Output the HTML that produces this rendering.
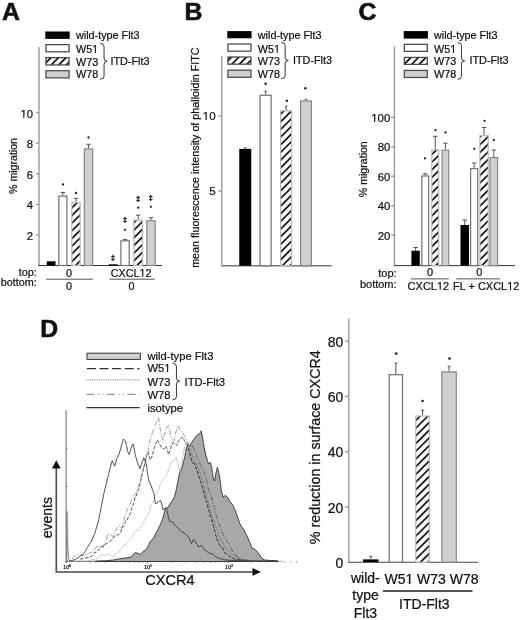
<!DOCTYPE html><html><head><meta charset="utf-8"><style>html,body{margin:0;padding:0;background:#fff;}svg{display:block;will-change:transform;}text{font-family:"Liberation Sans", sans-serif;fill:#111;stroke:#111;stroke-width:0.22px;}</style></head><body>
<svg width="520" height="620" viewBox="0 0 520 620">
<defs>
<pattern id="hatch" patternUnits="userSpaceOnUse" width="5.42" height="5.42" patternTransform="rotate(45)"><rect width="5.42" height="5.42" fill="#fff"/><line x1="2.71" y1="0" x2="2.71" y2="5.42" stroke="#000" stroke-width="1.6"/></pattern>
<pattern id="hatchL" patternUnits="userSpaceOnUse" width="5.3" height="5.3" patternTransform="rotate(45)"><rect width="5.3" height="5.3" fill="#fff"/><line x1="2.65" y1="0" x2="2.65" y2="5.3" stroke="#000" stroke-width="1.6"/></pattern>
<pattern id="hatchD" patternUnits="userSpaceOnUse" width="5.45" height="5.45" patternTransform="rotate(45)"><rect width="5.45" height="5.45" fill="#fff"/><line x1="2.725" y1="0" x2="2.725" y2="5.45" stroke="#000" stroke-width="1.6"/></pattern>
</defs>
<rect width="520" height="620" fill="#fff"/>
<text x="1.9" y="19.7" font-size="24.8" text-anchor="start" font-weight="bold" style="stroke-width:0.6px">A</text>
<rect x="45.3" y="31.5" width="24.400000000000006" height="7.399999999999999" fill="#000"/>
<rect x="45.925" y="44.625" width="23.150000000000006" height="7.149999999999999" fill="#fff" stroke="#484848" stroke-width="1.25"/>
<rect x="45.925" y="57.625" width="23.150000000000006" height="7.349999999999994" fill="url(#hatchL)" stroke="#484848" stroke-width="1.25"/>
<rect x="45.925" y="70.725" width="23.150000000000006" height="7.150000000000006" fill="#d0d0d0" stroke="#484848" stroke-width="1.25"/>
<text x="76" y="39.2" font-size="10.8" text-anchor="start" font-weight="normal" >wild-type Flt3</text>
<text x="76" y="52.8" font-size="10.8" text-anchor="start" font-weight="normal" >W51</text>
<text x="76" y="65.6" font-size="10.8" text-anchor="start" font-weight="normal" >W73</text>
<text x="76" y="78.2" font-size="10.8" text-anchor="start" font-weight="normal" >W78</text>
<path d="M100.2,43.5 Q104.05,43.5 104.05,46.5 L104.05,58.35 Q104.05,61.35 107.2,61.35 Q104.05,61.35 104.05,64.35 L104.05,76.2 Q104.05,79.2 100.2,79.2" fill="none" stroke="#333" stroke-width="1"/>
<text x="110.5" y="64.8" font-size="10.8" text-anchor="start" font-weight="normal" >ITD-Flt3</text>
<line x1="39" y1="47" x2="39" y2="266" stroke="#9a9a9a" stroke-width="1.4" />
<line x1="38.4" y1="265.5" x2="162" y2="265.5" stroke="#333" stroke-width="1" />
<line x1="36" y1="234.98000000000002" x2="39" y2="234.98000000000002" stroke="#9a9a9a" stroke-width="1.4" />
<text x="33" y="239.98000000000002" font-size="11.3" text-anchor="end" font-weight="normal" >2</text>
<line x1="36" y1="204.36" x2="39" y2="204.36" stroke="#9a9a9a" stroke-width="1.4" />
<text x="33" y="209.36" font-size="11.3" text-anchor="end" font-weight="normal" >4</text>
<line x1="36" y1="173.74" x2="39" y2="173.74" stroke="#9a9a9a" stroke-width="1.4" />
<text x="33" y="178.74" font-size="11.3" text-anchor="end" font-weight="normal" >6</text>
<line x1="36" y1="143.12" x2="39" y2="143.12" stroke="#9a9a9a" stroke-width="1.4" />
<text x="33" y="148.12" font-size="11.3" text-anchor="end" font-weight="normal" >8</text>
<line x1="36" y1="112.50000000000003" x2="39" y2="112.50000000000003" stroke="#9a9a9a" stroke-width="1.4" />
<text x="33" y="117.50000000000003" font-size="11.3" text-anchor="end" font-weight="normal" >10</text>
<text transform="translate(17,166) rotate(-90)" font-size="10.6" text-anchor="middle">% migration</text>
<rect x="46.75" y="261.3" width="8.75" height="4.199999999999989" fill="#000"/>
<rect x="58.85" y="196.1" width="8.05" height="69.4" fill="#fff" stroke="#707070" stroke-width="1.2"/>
<line x1="62.875" y1="195.5" x2="62.875" y2="192.5" stroke="#555" stroke-width="1"/>
<line x1="60.625" y1="192.5" x2="65.125" y2="192.5" stroke="#555" stroke-width="1"/>
<rect x="71.85" y="202.6" width="8.3" height="62.9" fill="url(#hatch)" stroke="#b8b8b8" stroke-width="1.2"/>
<line x1="76.0" y1="202" x2="76.0" y2="198.3" stroke="#555" stroke-width="1"/>
<line x1="73.75" y1="198.3" x2="78.25" y2="198.3" stroke="#555" stroke-width="1"/>
<rect x="84.35" y="148.9" width="8.3" height="116.6" fill="#d0d0d0" stroke="#858585" stroke-width="1.2"/>
<line x1="88.5" y1="148.3" x2="88.5" y2="144.3" stroke="#555" stroke-width="1"/>
<line x1="86.25" y1="144.3" x2="90.75" y2="144.3" stroke="#555" stroke-width="1"/>
<rect x="108.7" y="264.3" width="9.0" height="1.1999999999999886" fill="#000"/>
<rect x="120.89999999999999" y="240.79999999999998" width="8.300000000000015" height="24.70000000000001" fill="#fff" stroke="#707070" stroke-width="1.2"/>
<line x1="125.05000000000001" y1="240.2" x2="125.05000000000001" y2="239.6" stroke="#555" stroke-width="1"/>
<line x1="122.80000000000001" y1="239.6" x2="127.30000000000001" y2="239.6" stroke="#555" stroke-width="1"/>
<rect x="133.9" y="220.1" width="8.599999999999984" height="45.4" fill="url(#hatch)" stroke="#b8b8b8" stroke-width="1.2"/>
<line x1="138.2" y1="219.5" x2="138.2" y2="215.1" stroke="#555" stroke-width="1"/>
<line x1="135.95" y1="215.1" x2="140.45" y2="215.1" stroke="#555" stroke-width="1"/>
<rect x="146.79999999999998" y="220.79999999999998" width="8.400000000000023" height="44.70000000000001" fill="#d0d0d0" stroke="#858585" stroke-width="1.2"/>
<line x1="151.0" y1="220.2" x2="151.0" y2="217.7" stroke="#555" stroke-width="1"/>
<line x1="148.75" y1="217.7" x2="153.25" y2="217.7" stroke="#555" stroke-width="1"/>
<circle cx="63" cy="184.5" r="1.15" fill="#222"/>
<circle cx="76" cy="193" r="1.15" fill="#222"/>
<circle cx="88.5" cy="137.5" r="1.15" fill="#222"/>
<text x="113" y="260.2" font-size="7.0" font-weight="bold" text-anchor="middle" style="stroke-width:0.35px">&#8225;</text>
<text x="125" y="222.39999999999998" font-size="7.0" font-weight="bold" text-anchor="middle" style="stroke-width:0.35px">&#8225;</text>
<circle cx="125" cy="229.8" r="1.15" fill="#222"/>
<circle cx="138.2" cy="207.7" r="1.15" fill="#222"/>
<text x="138.2" y="200.5" font-size="7.0" font-weight="bold" text-anchor="middle" style="stroke-width:0.35px">&#8225;</text>
<circle cx="150.8" cy="206.8" r="1.15" fill="#222"/>
<text x="150.8" y="200.2" font-size="7.0" font-weight="bold" text-anchor="middle" style="stroke-width:0.35px">&#8225;</text>
<text x="36.8" y="275.6" font-size="10.8" text-anchor="end" font-weight="normal" >top:</text>
<text x="36.8" y="286.2" font-size="10.8" text-anchor="end" font-weight="normal" >bottom:</text>
<text x="69" y="277.4" font-size="10.8" text-anchor="middle" font-weight="normal" >0</text>
<text x="131.2" y="276.7" font-size="10.8" text-anchor="middle" font-weight="normal" >CXCL12</text>
<line x1="46.2" y1="279.2" x2="92.7" y2="279.2" stroke="#555" stroke-width="1" />
<line x1="109.4" y1="279.2" x2="154.8" y2="279.2" stroke="#555" stroke-width="1" />
<text x="69" y="289.9" font-size="10.8" text-anchor="middle" font-weight="normal" >0</text>
<text x="131.5" y="289.9" font-size="10.8" text-anchor="middle" font-weight="normal" >0</text>
<text x="184.4" y="20.0" font-size="24.8" text-anchor="start" font-weight="bold" style="stroke-width:0.6px">B</text>
<rect x="227.3" y="31.1" width="24.299999999999983" height="7.199999999999996" fill="#000"/>
<rect x="227.925" y="44.025" width="23.049999999999983" height="7.149999999999999" fill="#fff" stroke="#484848" stroke-width="1.25"/>
<rect x="227.925" y="57.025" width="23.049999999999983" height="7.149999999999999" fill="url(#hatchL)" stroke="#484848" stroke-width="1.25"/>
<rect x="227.925" y="70.125" width="23.049999999999983" height="7.150000000000006" fill="#d0d0d0" stroke="#484848" stroke-width="1.25"/>
<text x="257.8" y="38.9" font-size="10.8" text-anchor="start" font-weight="normal" >wild-type Flt3</text>
<text x="257.8" y="52.7" font-size="10.8" text-anchor="start" font-weight="normal" >W51</text>
<text x="257.8" y="64.9" font-size="10.8" text-anchor="start" font-weight="normal" >W73</text>
<text x="257.8" y="77.5" font-size="10.8" text-anchor="start" font-weight="normal" >W78</text>
<path d="M281.3,42.3 Q285.15000000000003,42.3 285.15000000000003,45.3 L285.15000000000003,57.5 Q285.15000000000003,60.5 288.3,60.5 Q285.15000000000003,60.5 285.15000000000003,63.5 L285.15000000000003,75.7 Q285.15000000000003,78.7 281.3,78.7" fill="none" stroke="#333" stroke-width="1"/>
<text x="293.0" y="63.9" font-size="10.8" text-anchor="start" font-weight="normal" >ITD-Flt3</text>
<line x1="221.8" y1="56" x2="221.8" y2="266" stroke="#9a9a9a" stroke-width="1.4" />
<line x1="221.2" y1="265.75" x2="331.75" y2="265.75" stroke="#777" stroke-width="1.4" />
<line x1="218.3" y1="191.10000000000002" x2="221.8" y2="191.10000000000002" stroke="#9a9a9a" stroke-width="1.4" />
<text x="215.6" y="195.3" font-size="11.6" text-anchor="end" font-weight="normal" >5</text>
<line x1="218.3" y1="116.10000000000002" x2="221.8" y2="116.10000000000002" stroke="#9a9a9a" stroke-width="1.4" />
<text x="215.6" y="120.30000000000003" font-size="11.6" text-anchor="end" font-weight="normal" >10</text>
<text transform="translate(198.5,157.6) rotate(-90)" font-size="10.75" text-anchor="middle">mean fluorescence intensity of phalloidin FITC</text>
<rect x="239.25" y="148.9" width="12.0" height="116.85" fill="#000"/>
<line x1="245.25" y1="148.9" x2="245.25" y2="147.9" stroke="#555" stroke-width="1"/>
<line x1="243.75" y1="147.9" x2="246.75" y2="147.9" stroke="#555" stroke-width="1"/>
<rect x="260.1" y="95.3" width="10.99999999999999" height="170.45000000000002" fill="#fff" stroke="#707070" stroke-width="1.2"/>
<line x1="265.6" y1="94.7" x2="265.6" y2="91.2" stroke="#555" stroke-width="1"/>
<line x1="264.3" y1="91.2" x2="266.90000000000003" y2="91.2" stroke="#555" stroke-width="1"/>
<rect x="280.6" y="110.89999999999999" width="10.99999999999999" height="154.85" fill="url(#hatch)" stroke="#b8b8b8" stroke-width="1.2"/>
<line x1="286.1" y1="110.3" x2="286.1" y2="106.3" stroke="#555" stroke-width="1"/>
<line x1="284.8" y1="106.3" x2="287.40000000000003" y2="106.3" stroke="#555" stroke-width="1"/>
<rect x="300.6" y="101.0" width="10.8" height="164.75" fill="#d0d0d0" stroke="#858585" stroke-width="1.2"/>
<line x1="306.0" y1="100.4" x2="306.0" y2="99.4" stroke="#555" stroke-width="1"/>
<line x1="304.7" y1="99.4" x2="307.3" y2="99.4" stroke="#555" stroke-width="1"/>
<circle cx="265.6" cy="83.7" r="1.25" fill="#222"/>
<circle cx="286.9" cy="100.8" r="1.25" fill="#222"/>
<circle cx="305.4" cy="88.3" r="1.25" fill="#222"/>
<text x="358.4" y="19.7" font-size="24.8" text-anchor="start" font-weight="bold" style="stroke-width:0.6px">C</text>
<rect x="403.7" y="31.1" width="24.19999999999999" height="7.5" fill="#000"/>
<rect x="404.325" y="44.325" width="22.94999999999999" height="7.049999999999997" fill="#fff" stroke="#484848" stroke-width="1.25"/>
<rect x="404.325" y="57.425" width="22.94999999999999" height="6.950000000000003" fill="url(#hatchL)" stroke="#484848" stroke-width="1.25"/>
<rect x="404.325" y="70.425" width="22.94999999999999" height="7.049999999999997" fill="#d0d0d0" stroke="#484848" stroke-width="1.25"/>
<text x="434.0" y="39.2" font-size="10.8" text-anchor="start" font-weight="normal" >wild-type Flt3</text>
<text x="434.0" y="52.5" font-size="10.8" text-anchor="start" font-weight="normal" >W51</text>
<text x="434.0" y="65.0" font-size="10.8" text-anchor="start" font-weight="normal" >W73</text>
<text x="434.0" y="77.8" font-size="10.8" text-anchor="start" font-weight="normal" >W78</text>
<path d="M457.6,42.4 Q461.45000000000005,42.4 461.45000000000005,45.4 L461.45000000000005,57.900000000000006 Q461.45000000000005,60.900000000000006 464.6,60.900000000000006 Q461.45000000000005,60.900000000000006 461.45000000000005,63.900000000000006 L461.45000000000005,76.4 Q461.45000000000005,79.4 457.6,79.4" fill="none" stroke="#333" stroke-width="1"/>
<text x="469.5" y="64.3" font-size="10.8" text-anchor="start" font-weight="normal" >ITD-Flt3</text>
<line x1="394.4" y1="46.4" x2="394.4" y2="266" stroke="#9a9a9a" stroke-width="1.4" />
<line x1="393.8" y1="265.6" x2="515" y2="265.6" stroke="#333" stroke-width="1" />
<line x1="391.2" y1="235.15000000000003" x2="394.4" y2="235.15000000000003" stroke="#9a9a9a" stroke-width="1.4" />
<text x="390.3" y="239.75000000000003" font-size="11.4" text-anchor="end" font-weight="normal" >20</text>
<line x1="391.2" y1="205.70000000000002" x2="394.4" y2="205.70000000000002" stroke="#9a9a9a" stroke-width="1.4" />
<text x="390.3" y="210.3" font-size="11.4" text-anchor="end" font-weight="normal" >40</text>
<line x1="391.2" y1="176.25000000000003" x2="394.4" y2="176.25000000000003" stroke="#9a9a9a" stroke-width="1.4" />
<text x="390.3" y="180.85000000000002" font-size="11.4" text-anchor="end" font-weight="normal" >60</text>
<line x1="391.2" y1="146.8" x2="394.4" y2="146.8" stroke="#9a9a9a" stroke-width="1.4" />
<text x="390.3" y="151.4" font-size="11.4" text-anchor="end" font-weight="normal" >80</text>
<line x1="391.2" y1="117.35000000000002" x2="394.4" y2="117.35000000000002" stroke="#9a9a9a" stroke-width="1.4" />
<text x="390.3" y="121.95000000000002" font-size="11.4" text-anchor="end" font-weight="normal" >100</text>
<text transform="translate(367.3,169.2) rotate(-90)" font-size="10.6" text-anchor="middle">% migration</text>
<rect x="411.4" y="250.75" width="8.400000000000034" height="14.850000000000023" fill="#000"/>
<line x1="415.6" y1="250.75" x2="415.6" y2="247.5" stroke="#555" stroke-width="1"/>
<line x1="413.35" y1="247.5" x2="417.85" y2="247.5" stroke="#555" stroke-width="1"/>
<rect x="421.85" y="176.0" width="6.850000000000011" height="89.60000000000002" fill="#fff" stroke="#707070" stroke-width="1.2"/>
<line x1="425.275" y1="175.4" x2="425.275" y2="173.8" stroke="#555" stroke-width="1"/>
<line x1="423.025" y1="173.8" x2="427.525" y2="173.8" stroke="#555" stroke-width="1"/>
<rect x="431.8" y="149.9" width="6.900000000000023" height="115.70000000000002" fill="url(#hatch)" stroke="#b8b8b8" stroke-width="1.2"/>
<line x1="435.25" y1="149.3" x2="435.25" y2="136.3" stroke="#555" stroke-width="1"/>
<line x1="433.0" y1="136.3" x2="437.5" y2="136.3" stroke="#555" stroke-width="1"/>
<rect x="442.1" y="150.29999999999998" width="6.600000000000011" height="115.30000000000004" fill="#d0d0d0" stroke="#858585" stroke-width="1.2"/>
<line x1="445.4" y1="149.7" x2="445.4" y2="143.25" stroke="#555" stroke-width="1"/>
<line x1="443.15" y1="143.25" x2="447.65" y2="143.25" stroke="#555" stroke-width="1"/>
<rect x="460.5" y="225.0" width="8.5" height="40.60000000000002" fill="#000"/>
<line x1="464.75" y1="225.0" x2="464.75" y2="220" stroke="#555" stroke-width="1"/>
<line x1="462.5" y1="220" x2="467.0" y2="220" stroke="#555" stroke-width="1"/>
<rect x="470.6" y="168.6" width="7.05" height="97.00000000000003" fill="#fff" stroke="#707070" stroke-width="1.2"/>
<line x1="474.125" y1="168.0" x2="474.125" y2="163" stroke="#555" stroke-width="1"/>
<line x1="471.875" y1="163" x2="476.375" y2="163" stroke="#555" stroke-width="1"/>
<rect x="479.90000000000003" y="135.6" width="8.3" height="130.00000000000003" fill="url(#hatch)" stroke="#b8b8b8" stroke-width="1.2"/>
<line x1="484.05" y1="135.0" x2="484.05" y2="127.5" stroke="#555" stroke-width="1"/>
<line x1="481.8" y1="127.5" x2="486.3" y2="127.5" stroke="#555" stroke-width="1"/>
<rect x="490.0" y="157.6" width="7.600000000000011" height="108.00000000000003" fill="#d0d0d0" stroke="#858585" stroke-width="1.2"/>
<line x1="493.79999999999995" y1="157.0" x2="493.79999999999995" y2="150" stroke="#555" stroke-width="1"/>
<line x1="491.54999999999995" y1="150" x2="496.04999999999995" y2="150" stroke="#555" stroke-width="1"/>
<circle cx="425" cy="158.4" r="1.15" fill="#222"/>
<circle cx="435.5" cy="130.2" r="1.15" fill="#222"/>
<circle cx="445.5" cy="132.5" r="1.15" fill="#222"/>
<circle cx="474.3" cy="148.8" r="1.15" fill="#222"/>
<circle cx="484.5" cy="120.8" r="1.15" fill="#222"/>
<circle cx="493.8" cy="140" r="1.15" fill="#222"/>
<text x="396.6" y="277" font-size="11" text-anchor="end" font-weight="normal" >top:</text>
<text x="396.6" y="287.7" font-size="11" text-anchor="end" font-weight="normal" >bottom:</text>
<text x="430" y="276.3" font-size="11" text-anchor="middle" font-weight="normal" >0</text>
<text x="479.2" y="276.3" font-size="11" text-anchor="middle" font-weight="normal" >0</text>
<line x1="411" y1="278.9" x2="448.8" y2="278.9" stroke="#555" stroke-width="1" />
<line x1="456.3" y1="278.9" x2="500" y2="278.9" stroke="#555" stroke-width="1" />
<text x="428.4" y="289.5" font-size="11" text-anchor="middle" font-weight="normal" >CXCL12</text>
<text x="486.2" y="289.5" font-size="11" text-anchor="middle" font-weight="normal" >FL + CXCL12</text>
<text x="40.3" y="337.0" font-size="24.8" text-anchor="start" font-weight="bold" style="stroke-width:0.6px">D</text>
<rect x="87" y="353.2" width="53.3" height="6.2" fill="#d0d0d0" stroke="#333" stroke-width="1"/>
<line x1="86.9" y1="368.6" x2="139.6" y2="368.6" stroke="#333" stroke-width="1.2" stroke-dasharray="9,3.6"/>
<line x1="86.5" y1="379.9" x2="139.6" y2="379.9" stroke="#666" stroke-width="1.0" stroke-dasharray="0.8,1"/>
<line x1="86.5" y1="394.4" x2="139.6" y2="394.4" stroke="#999" stroke-width="1.1" stroke-dasharray="8,3.5,1,3.5,1,3.5"/>
<line x1="86.5" y1="407.6" x2="139.6" y2="407.6" stroke="#333" stroke-width="1.2" />
<text x="147.5" y="360.1" font-size="11.2" text-anchor="start" font-weight="normal" >wild-type Flt3</text>
<text x="147.5" y="372.0" font-size="11.2" text-anchor="start" font-weight="normal" >W51</text>
<text x="147.5" y="386.1" font-size="11.2" text-anchor="start" font-weight="normal" >W73</text>
<text x="147.5" y="398.6" font-size="11.2" text-anchor="start" font-weight="normal" >W78</text>
<text x="147.5" y="412.3" font-size="11.2" text-anchor="start" font-weight="normal" >isotype</text>
<path d="M172.6,363.3 Q176.45,363.3 176.45,366.3 L176.45,378.2 Q176.45,381.2 179.6,381.2 Q176.45,381.2 176.45,384.2 L176.45,396.8 Q176.45,399.8 172.6,399.8" fill="none" stroke="#333" stroke-width="1"/>
<text x="184.6" y="386.3" font-size="11.2" text-anchor="start" font-weight="normal" >ITD-Flt3</text>
<line x1="66.1" y1="410.2" x2="66.1" y2="561.8" stroke="#666" stroke-width="1" />
<line x1="65.6" y1="561.3" x2="278" y2="561.3" stroke="#666" stroke-width="1" />
<line x1="278" y1="561.3" x2="283" y2="561.3" stroke="#aaa" stroke-width="1" />
<line x1="66.1" y1="448.6" x2="67.6" y2="448.6" stroke="#666" stroke-width="0.8" />
<line x1="66.1" y1="486.5" x2="67.6" y2="486.5" stroke="#666" stroke-width="0.8" />
<line x1="66.1" y1="524.2" x2="67.6" y2="524.2" stroke="#666" stroke-width="0.8" />
<text x="63.3" y="568.6" font-size="5.2" text-anchor="start" font-weight="normal" >10<tspan font-size="3.6" dy="-1.8">0</tspan></text>
<text x="144.3" y="568.6" font-size="5.2" text-anchor="start" font-weight="normal" >10<tspan font-size="3.6" dy="-1.8">1</tspan></text>
<text x="225.3" y="568.6" font-size="5.2" text-anchor="start" font-weight="normal" >10<tspan font-size="3.6" dy="-1.8">2</tspan></text>
<line x1="66.1" y1="561.3" x2="66.1" y2="563.5" stroke="#666" stroke-width="0.8" />
<line x1="90.48" y1="561.3" x2="90.48" y2="562.5999999999999" stroke="#666" stroke-width="0.8" />
<line x1="104.75" y1="561.3" x2="104.75" y2="562.5999999999999" stroke="#666" stroke-width="0.8" />
<line x1="114.87" y1="561.3" x2="114.87" y2="562.5999999999999" stroke="#666" stroke-width="0.8" />
<line x1="122.72" y1="561.3" x2="122.72" y2="562.5999999999999" stroke="#666" stroke-width="0.8" />
<line x1="129.13" y1="561.3" x2="129.13" y2="562.5999999999999" stroke="#666" stroke-width="0.8" />
<line x1="134.55" y1="561.3" x2="134.55" y2="562.5999999999999" stroke="#666" stroke-width="0.8" />
<line x1="139.25" y1="561.3" x2="139.25" y2="562.5999999999999" stroke="#666" stroke-width="0.8" />
<line x1="143.39" y1="561.3" x2="143.39" y2="562.5999999999999" stroke="#666" stroke-width="0.8" />
<line x1="147.1" y1="561.3" x2="147.1" y2="563.5" stroke="#666" stroke-width="0.8" />
<line x1="171.48" y1="561.3" x2="171.48" y2="562.5999999999999" stroke="#666" stroke-width="0.8" />
<line x1="185.75" y1="561.3" x2="185.75" y2="562.5999999999999" stroke="#666" stroke-width="0.8" />
<line x1="195.87" y1="561.3" x2="195.87" y2="562.5999999999999" stroke="#666" stroke-width="0.8" />
<line x1="203.72" y1="561.3" x2="203.72" y2="562.5999999999999" stroke="#666" stroke-width="0.8" />
<line x1="210.13" y1="561.3" x2="210.13" y2="562.5999999999999" stroke="#666" stroke-width="0.8" />
<line x1="215.55" y1="561.3" x2="215.55" y2="562.5999999999999" stroke="#666" stroke-width="0.8" />
<line x1="220.25" y1="561.3" x2="220.25" y2="562.5999999999999" stroke="#666" stroke-width="0.8" />
<line x1="224.39" y1="561.3" x2="224.39" y2="562.5999999999999" stroke="#666" stroke-width="0.8" />
<line x1="228.1" y1="561.3" x2="228.1" y2="563.5" stroke="#666" stroke-width="0.8" />
<line x1="252.48" y1="561.3" x2="252.48" y2="562.5999999999999" stroke="#666" stroke-width="0.8" />
<line x1="266.75" y1="561.3" x2="266.75" y2="562.5999999999999" stroke="#666" stroke-width="0.8" />
<line x1="276.87" y1="561.3" x2="276.87" y2="562.5999999999999" stroke="#666" stroke-width="0.8" />
<line x1="284.72" y1="561.3" x2="284.72" y2="562.5999999999999" stroke="#666" stroke-width="0.8" />
<line x1="291.13" y1="561.3" x2="291.13" y2="562.5999999999999" stroke="#666" stroke-width="0.8" />
<line x1="296.55" y1="561.3" x2="296.55" y2="562.5999999999999" stroke="#666" stroke-width="0.8" />
<polygon points="95.0,561.3 96.87,561.16 98.73,561.03 100.6,561.1 102.47,560.84 104.33,560.89 106.2,560.8 108.1,560.56 110.0,560.27 111.9,560.2 113.8,560.0 115.72,559.49 117.65,559.23 119.58,558.75 121.5,558.5 123.57,558.11 125.63,557.94 127.7,557.7 130.0,557.28 132.3,556.2 133.85,553.87 135.4,552.3 136.9,553.1 138.45,553.57 140.0,554.6 141.55,553.18 143.1,551.5 145.0,550.45 146.9,548.5 147.68,547.04 148.46,545.32 149.24,544.36 150.02,541.89 150.8,540.8 152.3,539.61 153.8,537.7 154.58,535.94 155.35,534.24 156.12,532.67 156.9,531.5 157.68,529.78 158.45,528.77 159.22,526.61 160.0,525.4 160.78,523.56 161.55,521.69 162.32,519.5 163.1,517.7 163.56,515.91 164.02,513.58 164.48,511.74 164.94,510.05 165.4,508.5 166.95,507.88 168.5,506.9 169.25,505.28 170.0,503.8 171.15,502.11 172.3,500.8 173.07,499.35 173.83,497.69 174.6,496.2 175.13,493.93 175.67,492.36 176.2,490.0 176.53,488.49 176.87,486.32 177.2,484.94 177.53,483.18 177.87,481.82 178.2,479.96 178.53,477.81 178.87,476.79 179.2,474.6 179.97,472.29 180.75,470.67 181.53,469.08 182.3,466.9 182.76,464.71 183.22,463.21 183.68,460.92 184.14,459.71 184.6,457.7 184.92,456.12 185.24,454.09 185.56,452.56 185.88,450.15 186.2,448.5 186.95,446.75 187.7,444.6 190.0,446.2 190.75,444.74 191.5,443.1 192.65,441.23 193.8,439.2 195.35,437.26 196.9,435.4 199.2,433.8 200.25,432.64 201.3,430.8 201.62,432.96 201.94,434.21 202.26,436.12 202.58,437.24 202.9,439.4 203.22,441.53 203.53,443.41 203.85,445.69 204.17,447.46 204.48,448.85 204.8,451.0 205.33,452.94 205.85,455.27 206.38,456.67 206.9,459.2 207.7,461.56 208.5,464.0 210.2,462.4 210.9,464.47 211.6,467.2 211.84,468.5 212.09,470.13 212.33,472.53 212.57,473.57 212.81,475.38 213.06,477.21 213.3,479.0 214.6,481.0 214.88,479.62 215.15,477.08 215.42,475.7 215.7,474.0 216.12,472.35 216.55,470.98 216.97,469.22 217.4,467.2 217.8,469.26 218.2,470.38 218.6,472.22 219.0,473.86 219.4,475.7 219.64,477.9 219.88,479.78 220.11,480.79 220.35,482.63 220.59,484.49 220.83,486.31 221.06,488.37 221.3,490.2 221.73,492.11 222.15,493.61 222.57,495.18 223.0,497.5 225.4,495.3 227.8,497.5 228.63,499.02 229.47,500.57 230.3,502.3 232.7,504.7 233.5,506.4 234.3,508.42 235.1,509.6 235.7,511.62 236.3,513.27 236.9,515.19 237.5,516.9 238.12,518.88 238.75,520.05 239.38,522.7 240.0,524.1 241.2,526.18 242.4,527.7 244.3,530.2 245.27,532.57 246.23,534.5 247.2,536.2 248.0,538.13 248.8,540.17 249.6,542.3 250.43,543.9 251.27,546.43 252.1,548.3 255.2,549.5 256.65,550.91 258.1,553.2 259.3,554.37 260.5,556.11 261.7,558.0 264.2,560.0 266.13,560.1 268.07,560.35 270.0,560.6 272.0,560.57 274.0,560.65 276.0,560.8 278,561 278,561.5 95,561.5" fill="#a8a8a8" stroke="#3a3a3a" stroke-width="1" stroke-linejoin="round"/>
<polyline points="86.0,561.0 87.88,560.5 89.76,560.3 91.64,559.85 93.52,559.62 95.4,559.2 96.93,558.27 98.47,556.97 100.0,556.2 102.07,554.79 104.13,555.74 106.2,554.6 108.23,554.7 110.27,555.19 112.3,556.2 113.83,556.06 115.37,554.08 116.9,553.1 118.43,552.17 119.97,549.99 121.5,548.5 122.67,547.4 123.85,545.17 125.03,544.69 126.2,543.1 127.73,542.46 129.27,540.54 130.8,539.2 131.8,537.6 132.8,535.44 133.8,533.1 135.35,531.17 136.9,530.8 138.45,530.11 140.0,528.5 141.03,527.1 142.07,525.01 143.1,523.8 143.88,521.43 144.65,521.41 145.42,519.18 146.2,517.7 146.97,516.56 147.73,515.32 148.5,513.1 149.07,511.56 149.65,510.01 150.23,507.14 150.8,505.4 151.57,504.41 152.33,502.23 153.1,501.58 153.87,499.95 154.63,497.01 155.4,496.2 156.18,493.99 156.95,492.59 157.72,492.39 158.5,490.0 158.97,488.15 159.43,486.76 159.9,484.8 160.93,482.84 161.97,481.61 163.0,480.0 164.13,478.29 165.27,476.73 166.4,475.5 167.1,473.82 167.8,471.98 168.5,470.0 169.07,468.8 169.65,466.48 170.23,465.0 170.8,462.3 172.15,461.79 173.5,460.0 174.85,459.73 176.2,457.7 176.8,460.11 177.4,461.29 178.0,464.0 178.5,466.52 179.0,468.59 179.5,470.35 180.0,471.5 180.4,469.72 180.8,468.08 181.2,465.28 181.6,464.5 182.0,462.0 182.29,460.42 182.57,458.18 182.86,456.07 183.14,455.78 183.43,454.31 183.71,450.97 184.0,450.0 184.5,448.54 185.0,445.84 185.5,443.37 186.0,442.0 188.5,444.0 189.12,445.63 189.75,448.48 190.38,450.67 191.0,452.0 191.6,452.78 192.2,455.41 192.8,455.98 193.4,458.79 194.0,460.0 195.0,461.36 196.0,464.02 197.0,465.0 197.75,467.62 198.5,468.51 199.25,471.15 200.0,472.0 200.5,473.32 201.0,474.57 201.5,477.18 202.0,477.82 202.5,479.79 203.0,482.0 203.43,483.55 203.86,485.63 204.29,486.52 204.71,488.03 205.14,491.23 205.57,491.95 206.0,494.0 206.5,496.66 207.0,498.38 207.5,499.28 208.0,501.26 208.5,503.2 209.0,505.0 209.5,506.93 210.0,508.51 210.5,510.11 211.0,511.88 211.5,514.13 212.0,515.0 212.57,516.73 213.14,518.3 213.71,520.54 214.29,521.38 214.86,523.21 215.43,526.15 216.0,527.0 216.67,528.87 217.33,530.75 218.0,531.62 218.67,534.18 219.33,536.31 220.0,538.0 220.83,538.64 221.67,541.21 222.5,542.74 223.33,543.21 224.17,545.73 225.0,547.0 226.2,548.34 227.4,550.12 228.6,550.93 229.8,552.97 231.0,554.0 232.5,555.26 234.0,554.81 235.5,555.71 237.0,557.43 238.5,558.42 240.0,559.0 241.88,559.12 243.75,559.48 245.62,559.8 247.5,559.9 249.38,560.18 251.25,560.4 253.12,560.68 255,561" fill="none" stroke="#a0a0a0" stroke-width="1" stroke-linejoin="round" stroke-dasharray="1,1" />
<polyline points="72.0,559.0 73.63,557.39 75.27,555.35 76.9,554.6 78.97,554.95 81.03,555.05 83.1,556.2 84.62,554.64 86.15,554.47 87.67,554.63 89.2,553.1 91.15,552.49 93.1,550.8 94.37,549.98 95.63,547.7 96.9,546.9 100.0,546.2 101.55,547.02 103.1,547.7 103.88,545.57 104.65,543.66 105.42,541.82 106.2,540.8 106.58,538.54 106.95,538.07 107.33,536.14 107.7,533.8 110.0,534.6 111.9,535.95 113.8,536.2 114.58,534.82 115.35,531.8 116.12,530.08 116.9,528.5 118.05,527.18 119.2,525.4 120.35,527.37 121.5,528.5 122.02,527.34 122.53,525.58 123.05,522.36 123.57,521.49 124.08,519.81 124.6,517.7 125.22,515.87 125.84,513.44 126.46,512.13 127.08,509.6 127.7,508.5 128.47,507.73 129.25,506.06 130.03,503.94 130.8,502.3 131.8,499.91 132.8,498.97 133.8,496.2 134.83,494.53 135.87,493.29 136.9,490.8 137.52,489.67 138.14,487.3 138.76,485.37 139.38,483.94 140.0,482.0 140.5,479.88 141.0,477.39 141.5,475.65 142.0,474.0 142.53,472.61 143.05,469.28 143.57,467.33 144.1,466.2 144.57,464.38 145.05,461.7 145.53,460.11 146.0,458.0 146.6,455.95 147.2,453.72 147.8,452.0 148.11,451.18 148.43,448.02 148.74,446.7 149.06,444.61 149.37,443.67 149.69,441.31 150.0,440.0 150.57,437.92 151.13,436.81 151.7,434.23 152.27,432.84 152.83,431.64 153.4,429.1 154.6,428.5 155.23,425.62 155.87,423.38 156.5,422.0 157.5,419.36 158.5,417.7 158.76,419.89 159.01,421.33 159.27,422.36 159.52,424.24 159.78,425.68 160.03,427.89 160.29,428.85 160.54,431.74 160.8,433.1 161.38,435.74 161.95,437.77 162.53,439.3 163.1,440.8 163.43,439.87 163.76,436.42 164.09,435.15 164.41,434.61 164.74,432.51 165.07,430.1 165.4,428.5 166.95,427.75 168.5,425.4 168.88,427.42 169.27,429.57 169.65,430.43 170.03,432.04 170.42,434.3 170.8,436.2 171.8,437.08 172.8,439.05 173.8,440.8 174.23,439.92 174.67,437.07 175.1,434.78 175.53,433.14 175.97,431.65 176.4,431.04 176.83,428.58 177.27,426.73 177.7,425.4 178.73,426.47 179.77,429.87 180.8,430.8 183.1,433.1 183.88,434.89 184.65,436.42 185.42,438.08 186.2,440.8 187.35,441.5 188.5,443.8 191.5,443.0 192.12,444.15 192.75,446.82 193.38,447.62 194.0,450.0 194.8,450.83 195.6,453.3 196.4,454.53 197.2,457.54 198.0,458.3 198.75,459.55 199.5,462.2 200.25,464.57 201.0,466.0 201.9,467.71 202.8,470.63 203.7,471.58 204.6,473.5 205.08,474.74 205.56,476.74 206.04,477.77 206.52,480.16 207.0,482.0 207.38,483.33 207.76,486.26 208.14,487.94 208.52,489.12 208.9,490.9 209.56,491.8 210.22,493.94 210.88,495.66 211.54,497.33 212.2,499.6 212.66,500.97 213.11,503.98 213.57,504.53 214.03,506.22 214.49,509.66 214.94,510.86 215.4,512.6 215.95,515.12 216.5,515.7 217.05,518.23 217.6,519.43 218.15,521.31 218.7,522.87 219.25,524.05 219.8,525.7 220.52,526.77 221.23,528.78 221.95,531.77 222.67,533.62 223.38,535.46 224.1,536.5 225.2,537.83 226.3,540.03 227.4,541.91 228.5,543.0 229.36,545.0 230.22,547.05 231.08,548.27 231.94,550.24 232.8,551.7 234.1,553.35 235.4,553.92 236.7,556.42 238.0,557.8 239.3,558.3 241.04,558.51 242.78,559.43 244.52,559.87 246.26,560.15 248.0,560.5 250.0,560.35 252.0,560.92 254.0,560.6 256.0,561.15 258,561" fill="none" stroke="#9a9a9a" stroke-width="1" stroke-linejoin="round" stroke-dasharray="5,1.6,1,1.6" />
<polyline points="80.0,559.0 82.0,558.67 84.0,558.33 86.0,557.96 88.0,557.64 90.0,557.0 91.28,556.31 92.56,555.52 93.83,552.79 95.11,552.45 96.39,552.19 97.67,550.53 98.94,549.87 100.22,547.33 101.5,546.9 103.07,545.81 104.63,544.38 106.2,543.8 107.73,542.88 109.27,541.93 110.8,540.8 112.33,538.39 113.87,537.22 115.4,536.2 116.93,534.77 118.47,534.88 120.0,533.1 120.77,532.03 121.53,529.39 122.3,528.98 123.07,526.25 123.83,525.56 124.6,523.8 125.52,521.61 126.44,519.86 127.36,519.91 128.28,517.2 129.2,516.2 129.82,513.83 130.44,513.35 131.06,511.29 131.68,508.38 132.3,506.9 132.92,505.89 133.54,503.29 134.16,501.7 134.78,499.01 135.4,497.7 136.17,496.43 136.93,493.91 137.7,491.5 138.24,490.62 138.78,488.77 139.32,485.98 139.86,484.37 140.4,482.9 140.77,480.63 141.14,478.92 141.51,477.11 141.88,475.86 142.25,474.74 142.62,471.99 142.99,471.53 143.36,469.25 143.73,467.53 144.1,466.2 144.56,465.0 145.03,462.62 145.49,460.54 145.95,459.07 146.41,457.69 146.88,454.75 147.34,454.63 147.8,452.0 148.48,453.14 149.15,456.45 149.82,458.62 150.5,460.0 151.17,457.47 151.83,457.18 152.5,455.0 152.95,452.93 153.4,451.49 153.85,448.64 154.3,447.7 155.0,444.96 155.7,443.28 156.4,442.74 157.1,440.0 158.07,441.12 159.03,443.79 160.0,445.0 161.27,447.17 162.53,448.6 163.8,449.2 164.9,447.32 166.0,446.0 166.5,447.46 167.0,449.48 167.5,451.66 168.0,452.17 168.5,454.6 169.07,453.32 169.65,451.69 170.23,450.07 170.8,447.7 171.57,445.07 172.33,444.9 173.1,442.3 175.0,443.11 176.9,445.4 177.7,442.81 178.5,440.8 179.77,439.7 181.03,438.95 182.3,436.9 183.28,438.16 184.25,440.76 185.22,441.63 186.2,443.1 187.2,445.2 187.77,446.81 188.35,448.77 188.93,450.47 189.5,453.0 190.0,454.09 190.5,456.07 191.0,458.89 191.5,460.4 192.6,462.94 193.7,463.09 194.8,464.54 195.9,467.0 196.44,469.5 196.97,470.31 197.51,471.71 198.05,473.03 198.59,475.29 199.12,477.34 199.66,478.3 200.2,480.0 200.69,481.55 201.18,482.58 201.67,485.82 202.16,485.91 202.64,488.43 203.13,490.74 203.62,491.16 204.11,493.93 204.6,495.2 205.08,497.7 205.56,498.81 206.03,500.79 206.51,501.25 206.99,503.53 207.47,504.7 207.94,507.64 208.42,508.34 208.9,510.4 209.45,512.13 210.0,514.93 210.55,516.48 211.1,518.52 211.65,519.4 212.2,521.3 212.66,523.14 213.11,525.43 213.57,526.83 214.03,528.35 214.49,530.41 214.94,531.81 215.4,534.3 216.13,535.9 216.87,538.81 217.6,540.58 218.33,541.8 219.07,543.38 219.8,545.2 220.88,546.36 221.97,547.36 223.05,549.14 224.13,551.51 225.22,553.11 226.3,553.9 227.75,554.55 229.2,556.21 230.65,557.09 232.1,557.61 233.55,558.49 235.0,559.3 236.86,559.65 238.71,559.65 240.57,560.05 242.43,560.04 244.29,560.36 246.14,560.73 248,560.8" fill="none" stroke="#555" stroke-width="1" stroke-linejoin="round" stroke-dasharray="3.5,1.6" />
<clipPath id="wtclip"><polygon points="95.0,561.3 96.87,561.16 98.73,561.03 100.6,561.1 102.47,560.84 104.33,560.89 106.2,560.8 108.1,560.56 110.0,560.27 111.9,560.2 113.8,560.0 115.72,559.49 117.65,559.23 119.58,558.75 121.5,558.5 123.57,558.11 125.63,557.94 127.7,557.7 130.0,557.28 132.3,556.2 133.85,553.87 135.4,552.3 136.9,553.1 138.45,553.57 140.0,554.6 141.55,553.18 143.1,551.5 145.0,550.45 146.9,548.5 147.68,547.04 148.46,545.32 149.24,544.36 150.02,541.89 150.8,540.8 152.3,539.61 153.8,537.7 154.58,535.94 155.35,534.24 156.12,532.67 156.9,531.5 157.68,529.78 158.45,528.77 159.22,526.61 160.0,525.4 160.78,523.56 161.55,521.69 162.32,519.5 163.1,517.7 163.56,515.91 164.02,513.58 164.48,511.74 164.94,510.05 165.4,508.5 166.95,507.88 168.5,506.9 169.25,505.28 170.0,503.8 171.15,502.11 172.3,500.8 173.07,499.35 173.83,497.69 174.6,496.2 175.13,493.93 175.67,492.36 176.2,490.0 176.53,488.49 176.87,486.32 177.2,484.94 177.53,483.18 177.87,481.82 178.2,479.96 178.53,477.81 178.87,476.79 179.2,474.6 179.97,472.29 180.75,470.67 181.53,469.08 182.3,466.9 182.76,464.71 183.22,463.21 183.68,460.92 184.14,459.71 184.6,457.7 184.92,456.12 185.24,454.09 185.56,452.56 185.88,450.15 186.2,448.5 186.95,446.75 187.7,444.6 190.0,446.2 190.75,444.74 191.5,443.1 192.65,441.23 193.8,439.2 195.35,437.26 196.9,435.4 199.2,433.8 200.25,432.64 201.3,430.8 201.62,432.96 201.94,434.21 202.26,436.12 202.58,437.24 202.9,439.4 203.22,441.53 203.53,443.41 203.85,445.69 204.17,447.46 204.48,448.85 204.8,451.0 205.33,452.94 205.85,455.27 206.38,456.67 206.9,459.2 207.7,461.56 208.5,464.0 210.2,462.4 210.9,464.47 211.6,467.2 211.84,468.5 212.09,470.13 212.33,472.53 212.57,473.57 212.81,475.38 213.06,477.21 213.3,479.0 214.6,481.0 214.88,479.62 215.15,477.08 215.42,475.7 215.7,474.0 216.12,472.35 216.55,470.98 216.97,469.22 217.4,467.2 217.8,469.26 218.2,470.38 218.6,472.22 219.0,473.86 219.4,475.7 219.64,477.9 219.88,479.78 220.11,480.79 220.35,482.63 220.59,484.49 220.83,486.31 221.06,488.37 221.3,490.2 221.73,492.11 222.15,493.61 222.57,495.18 223.0,497.5 225.4,495.3 227.8,497.5 228.63,499.02 229.47,500.57 230.3,502.3 232.7,504.7 233.5,506.4 234.3,508.42 235.1,509.6 235.7,511.62 236.3,513.27 236.9,515.19 237.5,516.9 238.12,518.88 238.75,520.05 239.38,522.7 240.0,524.1 241.2,526.18 242.4,527.7 244.3,530.2 245.27,532.57 246.23,534.5 247.2,536.2 248.0,538.13 248.8,540.17 249.6,542.3 250.43,543.9 251.27,546.43 252.1,548.3 255.2,549.5 256.65,550.91 258.1,553.2 259.3,554.37 260.5,556.11 261.7,558.0 264.2,560.0 266.13,560.1 268.07,560.35 270.0,560.6 272.0,560.57 274.0,560.65 276.0,560.8 278,561 278,561.5 95,561.5"/></clipPath>
<g clip-path="url(#wtclip)">
<polyline points="72.0,559.0 73.63,557.39 75.27,555.35 76.9,554.6 78.97,554.95 81.03,555.05 83.1,556.2 84.62,554.64 86.15,554.47 87.67,554.63 89.2,553.1 91.15,552.49 93.1,550.8 94.37,549.98 95.63,547.7 96.9,546.9 100.0,546.2 101.55,547.02 103.1,547.7 103.88,545.57 104.65,543.66 105.42,541.82 106.2,540.8 106.58,538.54 106.95,538.07 107.33,536.14 107.7,533.8 110.0,534.6 111.9,535.95 113.8,536.2 114.58,534.82 115.35,531.8 116.12,530.08 116.9,528.5 118.05,527.18 119.2,525.4 120.35,527.37 121.5,528.5 122.02,527.34 122.53,525.58 123.05,522.36 123.57,521.49 124.08,519.81 124.6,517.7 125.22,515.87 125.84,513.44 126.46,512.13 127.08,509.6 127.7,508.5 128.47,507.73 129.25,506.06 130.03,503.94 130.8,502.3 131.8,499.91 132.8,498.97 133.8,496.2 134.83,494.53 135.87,493.29 136.9,490.8 137.52,489.67 138.14,487.3 138.76,485.37 139.38,483.94 140.0,482.0 140.5,479.88 141.0,477.39 141.5,475.65 142.0,474.0 142.53,472.61 143.05,469.28 143.57,467.33 144.1,466.2 144.57,464.38 145.05,461.7 145.53,460.11 146.0,458.0 146.6,455.95 147.2,453.72 147.8,452.0 148.11,451.18 148.43,448.02 148.74,446.7 149.06,444.61 149.37,443.67 149.69,441.31 150.0,440.0 150.57,437.92 151.13,436.81 151.7,434.23 152.27,432.84 152.83,431.64 153.4,429.1 154.6,428.5 155.23,425.62 155.87,423.38 156.5,422.0 157.5,419.36 158.5,417.7 158.76,419.89 159.01,421.33 159.27,422.36 159.52,424.24 159.78,425.68 160.03,427.89 160.29,428.85 160.54,431.74 160.8,433.1 161.38,435.74 161.95,437.77 162.53,439.3 163.1,440.8 163.43,439.87 163.76,436.42 164.09,435.15 164.41,434.61 164.74,432.51 165.07,430.1 165.4,428.5 166.95,427.75 168.5,425.4 168.88,427.42 169.27,429.57 169.65,430.43 170.03,432.04 170.42,434.3 170.8,436.2 171.8,437.08 172.8,439.05 173.8,440.8 174.23,439.92 174.67,437.07 175.1,434.78 175.53,433.14 175.97,431.65 176.4,431.04 176.83,428.58 177.27,426.73 177.7,425.4 178.73,426.47 179.77,429.87 180.8,430.8 183.1,433.1 183.88,434.89 184.65,436.42 185.42,438.08 186.2,440.8 187.35,441.5 188.5,443.8 191.5,443.0 192.12,444.15 192.75,446.82 193.38,447.62 194.0,450.0 194.8,450.83 195.6,453.3 196.4,454.53 197.2,457.54 198.0,458.3 198.75,459.55 199.5,462.2 200.25,464.57 201.0,466.0 201.9,467.71 202.8,470.63 203.7,471.58 204.6,473.5 205.08,474.74 205.56,476.74 206.04,477.77 206.52,480.16 207.0,482.0 207.38,483.33 207.76,486.26 208.14,487.94 208.52,489.12 208.9,490.9 209.56,491.8 210.22,493.94 210.88,495.66 211.54,497.33 212.2,499.6 212.66,500.97 213.11,503.98 213.57,504.53 214.03,506.22 214.49,509.66 214.94,510.86 215.4,512.6 215.95,515.12 216.5,515.7 217.05,518.23 217.6,519.43 218.15,521.31 218.7,522.87 219.25,524.05 219.8,525.7 220.52,526.77 221.23,528.78 221.95,531.77 222.67,533.62 223.38,535.46 224.1,536.5 225.2,537.83 226.3,540.03 227.4,541.91 228.5,543.0 229.36,545.0 230.22,547.05 231.08,548.27 231.94,550.24 232.8,551.7 234.1,553.35 235.4,553.92 236.7,556.42 238.0,557.8 239.3,558.3 241.04,558.51 242.78,559.43 244.52,559.87 246.26,560.15 248.0,560.5 250.0,560.35 252.0,560.92 254.0,560.6 256.0,561.15 258,561" fill="none" stroke="#6a6a6a" stroke-width="1" stroke-linejoin="round" stroke-dasharray="5,1.6,1,1.6" />
<polyline points="86.0,561.0 87.88,560.5 89.76,560.3 91.64,559.85 93.52,559.62 95.4,559.2 96.93,558.27 98.47,556.97 100.0,556.2 102.07,554.79 104.13,555.74 106.2,554.6 108.23,554.7 110.27,555.19 112.3,556.2 113.83,556.06 115.37,554.08 116.9,553.1 118.43,552.17 119.97,549.99 121.5,548.5 122.67,547.4 123.85,545.17 125.03,544.69 126.2,543.1 127.73,542.46 129.27,540.54 130.8,539.2 131.8,537.6 132.8,535.44 133.8,533.1 135.35,531.17 136.9,530.8 138.45,530.11 140.0,528.5 141.03,527.1 142.07,525.01 143.1,523.8 143.88,521.43 144.65,521.41 145.42,519.18 146.2,517.7 146.97,516.56 147.73,515.32 148.5,513.1 149.07,511.56 149.65,510.01 150.23,507.14 150.8,505.4 151.57,504.41 152.33,502.23 153.1,501.58 153.87,499.95 154.63,497.01 155.4,496.2 156.18,493.99 156.95,492.59 157.72,492.39 158.5,490.0 158.97,488.15 159.43,486.76 159.9,484.8 160.93,482.84 161.97,481.61 163.0,480.0 164.13,478.29 165.27,476.73 166.4,475.5 167.1,473.82 167.8,471.98 168.5,470.0 169.07,468.8 169.65,466.48 170.23,465.0 170.8,462.3 172.15,461.79 173.5,460.0 174.85,459.73 176.2,457.7 176.8,460.11 177.4,461.29 178.0,464.0 178.5,466.52 179.0,468.59 179.5,470.35 180.0,471.5 180.4,469.72 180.8,468.08 181.2,465.28 181.6,464.5 182.0,462.0 182.29,460.42 182.57,458.18 182.86,456.07 183.14,455.78 183.43,454.31 183.71,450.97 184.0,450.0 184.5,448.54 185.0,445.84 185.5,443.37 186.0,442.0 188.5,444.0 189.12,445.63 189.75,448.48 190.38,450.67 191.0,452.0 191.6,452.78 192.2,455.41 192.8,455.98 193.4,458.79 194.0,460.0 195.0,461.36 196.0,464.02 197.0,465.0 197.75,467.62 198.5,468.51 199.25,471.15 200.0,472.0 200.5,473.32 201.0,474.57 201.5,477.18 202.0,477.82 202.5,479.79 203.0,482.0 203.43,483.55 203.86,485.63 204.29,486.52 204.71,488.03 205.14,491.23 205.57,491.95 206.0,494.0 206.5,496.66 207.0,498.38 207.5,499.28 208.0,501.26 208.5,503.2 209.0,505.0 209.5,506.93 210.0,508.51 210.5,510.11 211.0,511.88 211.5,514.13 212.0,515.0 212.57,516.73 213.14,518.3 213.71,520.54 214.29,521.38 214.86,523.21 215.43,526.15 216.0,527.0 216.67,528.87 217.33,530.75 218.0,531.62 218.67,534.18 219.33,536.31 220.0,538.0 220.83,538.64 221.67,541.21 222.5,542.74 223.33,543.21 224.17,545.73 225.0,547.0 226.2,548.34 227.4,550.12 228.6,550.93 229.8,552.97 231.0,554.0 232.5,555.26 234.0,554.81 235.5,555.71 237.0,557.43 238.5,558.42 240.0,559.0 241.88,559.12 243.75,559.48 245.62,559.8 247.5,559.9 249.38,560.18 251.25,560.4 253.12,560.68 255,561" fill="none" stroke="#707070" stroke-width="1" stroke-linejoin="round" stroke-dasharray="1,1" />
<polyline points="80.0,559.0 82.0,558.67 84.0,558.33 86.0,557.96 88.0,557.64 90.0,557.0 91.28,556.31 92.56,555.52 93.83,552.79 95.11,552.45 96.39,552.19 97.67,550.53 98.94,549.87 100.22,547.33 101.5,546.9 103.07,545.81 104.63,544.38 106.2,543.8 107.73,542.88 109.27,541.93 110.8,540.8 112.33,538.39 113.87,537.22 115.4,536.2 116.93,534.77 118.47,534.88 120.0,533.1 120.77,532.03 121.53,529.39 122.3,528.98 123.07,526.25 123.83,525.56 124.6,523.8 125.52,521.61 126.44,519.86 127.36,519.91 128.28,517.2 129.2,516.2 129.82,513.83 130.44,513.35 131.06,511.29 131.68,508.38 132.3,506.9 132.92,505.89 133.54,503.29 134.16,501.7 134.78,499.01 135.4,497.7 136.17,496.43 136.93,493.91 137.7,491.5 138.24,490.62 138.78,488.77 139.32,485.98 139.86,484.37 140.4,482.9 140.77,480.63 141.14,478.92 141.51,477.11 141.88,475.86 142.25,474.74 142.62,471.99 142.99,471.53 143.36,469.25 143.73,467.53 144.1,466.2 144.56,465.0 145.03,462.62 145.49,460.54 145.95,459.07 146.41,457.69 146.88,454.75 147.34,454.63 147.8,452.0 148.48,453.14 149.15,456.45 149.82,458.62 150.5,460.0 151.17,457.47 151.83,457.18 152.5,455.0 152.95,452.93 153.4,451.49 153.85,448.64 154.3,447.7 155.0,444.96 155.7,443.28 156.4,442.74 157.1,440.0 158.07,441.12 159.03,443.79 160.0,445.0 161.27,447.17 162.53,448.6 163.8,449.2 164.9,447.32 166.0,446.0 166.5,447.46 167.0,449.48 167.5,451.66 168.0,452.17 168.5,454.6 169.07,453.32 169.65,451.69 170.23,450.07 170.8,447.7 171.57,445.07 172.33,444.9 173.1,442.3 175.0,443.11 176.9,445.4 177.7,442.81 178.5,440.8 179.77,439.7 181.03,438.95 182.3,436.9 183.28,438.16 184.25,440.76 185.22,441.63 186.2,443.1 187.2,445.2 187.77,446.81 188.35,448.77 188.93,450.47 189.5,453.0 190.0,454.09 190.5,456.07 191.0,458.89 191.5,460.4 192.6,462.94 193.7,463.09 194.8,464.54 195.9,467.0 196.44,469.5 196.97,470.31 197.51,471.71 198.05,473.03 198.59,475.29 199.12,477.34 199.66,478.3 200.2,480.0 200.69,481.55 201.18,482.58 201.67,485.82 202.16,485.91 202.64,488.43 203.13,490.74 203.62,491.16 204.11,493.93 204.6,495.2 205.08,497.7 205.56,498.81 206.03,500.79 206.51,501.25 206.99,503.53 207.47,504.7 207.94,507.64 208.42,508.34 208.9,510.4 209.45,512.13 210.0,514.93 210.55,516.48 211.1,518.52 211.65,519.4 212.2,521.3 212.66,523.14 213.11,525.43 213.57,526.83 214.03,528.35 214.49,530.41 214.94,531.81 215.4,534.3 216.13,535.9 216.87,538.81 217.6,540.58 218.33,541.8 219.07,543.38 219.8,545.2 220.88,546.36 221.97,547.36 223.05,549.14 224.13,551.51 225.22,553.11 226.3,553.9 227.75,554.55 229.2,556.21 230.65,557.09 232.1,557.61 233.55,558.49 235.0,559.3 236.86,559.65 238.71,559.65 240.57,560.05 242.43,560.04 244.29,560.36 246.14,560.73 248,560.8" fill="none" stroke="#4a4a4a" stroke-width="1" stroke-linejoin="round" stroke-dasharray="3.5,1.6" />
</g>
<polyline points="69.2,560.8 71.5,560.52 73.8,560.0 75.37,559.37 76.93,558.46 78.5,557.7 80.03,556.33 81.57,554.93 83.1,554.6 84.02,553.29 84.94,551.48 85.86,550.34 86.78,548.26 87.7,546.9 88.62,545.74 89.54,543.5 90.46,542.7 91.38,541.06 92.3,539.2 93.08,537.15 93.85,535.4 94.62,533.68 95.4,531.5 95.92,529.29 96.43,528.01 96.95,526.58 97.47,524.04 97.98,523.01 98.5,520.8 98.83,519.35 99.17,517.86 99.5,515.44 99.83,513.39 100.17,512.66 100.5,510.96 100.83,508.75 101.17,506.54 101.5,505.4 101.84,503.26 102.19,502.17 102.53,499.97 102.88,499.19 103.22,496.97 103.57,494.71 103.91,493.64 104.26,491.52 104.6,490.0 105.13,488.54 105.67,486.44 106.2,483.8 106.7,481.79 107.2,479.94 107.7,477.7 108.16,476.14 108.62,474.45 109.08,472.85 109.54,469.68 110.0,468.5 110.58,466.38 111.15,464.79 111.72,462.45 112.3,460.8 113.07,462.72 113.83,463.83 114.6,466.2 115.17,464.81 115.75,462.39 116.33,459.89 116.9,458.5 117.67,457.16 118.43,455.1 119.2,453.8 119.73,451.61 120.27,450.24 120.8,448.5 121.26,446.13 121.72,444.37 122.18,443.43 122.64,441.34 123.1,439.2 125.4,440.8 125.78,441.9 126.17,444.76 126.55,445.47 126.93,447.7 127.32,450.28 127.7,451.5 128.45,453.22 129.2,454.6 129.77,452.4 130.35,450.58 130.93,448.67 131.5,446.9 132.3,444.83 133.1,443.8 133.47,446.42 133.85,447.03 134.22,449.47 134.6,451.5 135.06,453.7 135.52,455.08 135.98,457.75 136.44,458.58 136.9,460.8 137.68,463.4 138.45,465.2 139.22,466.81 140.0,468.5 140.5,467.42 141.0,465.18 141.5,464.09 142.0,462.0 142.9,460.26 143.8,457.7 144.6,459.76 145.4,461.73 146.2,463.8 146.45,465.89 146.7,467.27 146.95,468.62 147.2,471.35 147.45,472.47 147.7,474.6 148.07,476.51 148.45,478.85 148.82,479.92 149.2,482.3 149.97,483.16 150.73,484.84 151.5,486.9 152.27,489.06 153.03,490.77 153.8,493.0 154.07,494.46 154.33,496.53 154.6,499.0 154.87,499.86 155.13,501.87 155.4,503.8 156.95,503.18 158.5,501.5 160.8,500.8 161.26,502.8 161.72,504.16 162.18,506.28 162.64,508.13 163.1,510.0 165.4,507.7 166.9,510.0 167.28,511.3 167.67,513.43 168.05,515.13 168.43,517.63 168.82,518.75 169.2,520.8 171.15,521.77 173.1,522.3 174.37,524.49 175.63,525.96 176.9,526.9 178.43,528.26 179.97,530.11 181.5,531.5 183.07,532.28 184.63,533.42 186.2,534.6 187.7,536.13 189.2,537.7 189.97,540.14 190.73,542.38 191.5,543.8 192.27,541.97 193.03,540.04 193.8,539.2 195.0,541.08 196.2,543.1 197.35,544.38 198.5,546.9 201.5,545.4 202.53,546.28 203.57,548.85 204.6,550.0 206.13,550.49 207.67,552.37 209.2,553.1 211.5,553.66 213.8,554.6 215.75,556.76 217.7,557.7 220.0,558.5 221.67,559.15 223.33,559.32 225.0,560.0 227.0,559.97 229.0,560.39 231.0,560.35 233.0,560.37 235.0,560.5 236.88,560.66 238.75,560.71 240.62,560.61 242.5,560.64 244.38,560.52 246.25,560.67 248.12,560.61 250.0,560.8 251.79,560.87 253.57,560.87 255.36,560.69 257.14,560.91 258.93,560.7 260.71,560.72 262.5,560.96 264.29,560.9 266.07,561.1 267.86,561.0 269.64,561.04 271.43,560.81 273.21,561.13 275,561" fill="none" stroke="#404040" stroke-width="0.95" stroke-linejoin="round" />
<polyline points="66.6,561 66.8,530 67.0,511.5 67.3,528 67.6,545 68.2,556 69.2,560.8" fill="none" stroke="#777" stroke-width="0.9" stroke-linejoin="round" />
<polyline points="67.2,561 67.5,520 67.9,540 68.6,558" fill="none" stroke="#999" stroke-width="0.8" stroke-linejoin="round" stroke-dasharray="1,1" />
<line x1="56.3" y1="571.6" x2="56.3" y2="466" stroke="#4a4a4a" stroke-width="1.6" />
<line x1="55.5" y1="572.0" x2="254" y2="572.0" stroke="#4a4a4a" stroke-width="1.6" />
<polygon points="56.3,460.2 51.9,468.4 60.7,468.4" fill="#111"/>
<polygon points="261,571.9 252.5,568.0 252.5,575.8" fill="#111"/>
<text transform="translate(52.3,517.7) rotate(-90)" font-size="14" text-anchor="middle">events</text>
<text x="169.9" y="585.3" font-size="14.6" text-anchor="middle" font-weight="normal" >CXCR4</text>
<line x1="348.8" y1="318.75" x2="348.8" y2="562.7" stroke="#9a9a9a" stroke-width="1.4" />
<line x1="348.3" y1="562.2" x2="478" y2="562.2" stroke="#444" stroke-width="1.1" />
<text x="343.4" y="567.8000000000001" font-size="14" text-anchor="end" font-weight="normal" >0</text>
<line x1="345" y1="506.95000000000005" x2="348.8" y2="506.95000000000005" stroke="#9a9a9a" stroke-width="1.4" />
<text x="343.4" y="512.5500000000001" font-size="14" text-anchor="end" font-weight="normal" >20</text>
<line x1="345" y1="451.70000000000005" x2="348.8" y2="451.70000000000005" stroke="#9a9a9a" stroke-width="1.4" />
<text x="343.4" y="457.30000000000007" font-size="14" text-anchor="end" font-weight="normal" >40</text>
<line x1="345" y1="396.45000000000005" x2="348.8" y2="396.45000000000005" stroke="#9a9a9a" stroke-width="1.4" />
<text x="343.4" y="402.05000000000007" font-size="14" text-anchor="end" font-weight="normal" >60</text>
<line x1="345" y1="341.20000000000005" x2="348.8" y2="341.20000000000005" stroke="#9a9a9a" stroke-width="1.4" />
<text x="343.4" y="346.80000000000007" font-size="14" text-anchor="end" font-weight="normal" >80</text>
<text transform="translate(319.5,447.2) rotate(-90)" font-size="14.3" text-anchor="middle">% reduction in surface CXCR4</text>
<rect x="363.1" y="559.4" width="15.399999999999977" height="2.800000000000068" fill="#000"/>
<line x1="370.8" y1="559.4" x2="370.8" y2="556.3" stroke="#555" stroke-width="1"/>
<line x1="369.3" y1="556.3" x2="372.3" y2="556.3" stroke="#555" stroke-width="1"/>
<rect x="389.20000000000005" y="374.70000000000005" width="13.3" height="187.50000000000003" fill="#fff" stroke="#707070" stroke-width="1.2"/>
<line x1="395.85" y1="374.1" x2="395.85" y2="363.2" stroke="#555" stroke-width="1"/>
<line x1="394.35" y1="363.2" x2="397.35" y2="363.2" stroke="#555" stroke-width="1"/>
<rect x="415.8" y="416.0" width="13.600000000000012" height="146.20000000000007" fill="url(#hatchD)" stroke="#b8b8b8" stroke-width="1.2"/>
<line x1="422.6" y1="415.4" x2="422.6" y2="410.2" stroke="#555" stroke-width="1"/>
<line x1="421.1" y1="410.2" x2="424.1" y2="410.2" stroke="#555" stroke-width="1"/>
<rect x="441.8" y="371.90000000000003" width="14.49999999999999" height="190.30000000000004" fill="#d0d0d0" stroke="#858585" stroke-width="1.2"/>
<line x1="449.04999999999995" y1="371.3" x2="449.04999999999995" y2="366.3" stroke="#555" stroke-width="1"/>
<line x1="447.54999999999995" y1="366.3" x2="450.54999999999995" y2="366.3" stroke="#555" stroke-width="1"/>
<circle cx="396.2" cy="353.6" r="1.3" fill="#222"/>
<circle cx="422.6" cy="401.0" r="1.3" fill="#222"/>
<circle cx="449.5" cy="358.6" r="1.3" fill="#222"/>
<text x="365.4" y="583.1" font-size="14" text-anchor="middle" font-weight="normal" >wild-</text>
<text x="365.5" y="600.4" font-size="14" text-anchor="middle" font-weight="normal" >type</text>
<text x="365.4" y="617.8" font-size="14" text-anchor="middle" font-weight="normal" >Flt3</text>
<text x="431.5" y="584.4" font-size="14" text-anchor="middle" font-weight="normal" >W51 W73 W78</text>
<line x1="383" y1="590.9" x2="472.5" y2="590.9" stroke="#1a1a1a" stroke-width="1.5" />
<text x="424.3" y="609" font-size="14" text-anchor="middle" font-weight="normal" >ITD-Flt3</text>
<!--foot-masks-->
<rect x="92.63" y="51.48" width="2.16" height="2.02" fill="#fff"/>
<rect x="95.98" y="51.48" width="2.10" height="2.02" fill="#fff"/>
<rect x="20.89" y="116.13" width="2.25" height="2.07" fill="#fff"/>
<rect x="24.38" y="116.13" width="2.19" height="2.07" fill="#fff"/>
<rect x="140.03" y="275.38" width="2.16" height="2.02" fill="#fff"/>
<rect x="143.38" y="275.38" width="2.10" height="2.02" fill="#fff"/>
<rect x="274.43" y="51.38" width="2.16" height="2.02" fill="#fff"/>
<rect x="277.78" y="51.38" width="2.10" height="2.02" fill="#fff"/>
<rect x="203.19" y="118.91" width="2.30" height="2.09" fill="#fff"/>
<rect x="206.76" y="118.91" width="2.24" height="2.09" fill="#fff"/>
<rect x="450.63" y="51.18" width="2.16" height="2.02" fill="#fff"/>
<rect x="453.98" y="51.18" width="2.10" height="2.02" fill="#fff"/>
<rect x="371.76" y="120.58" width="2.27" height="2.07" fill="#fff"/>
<rect x="375.28" y="120.58" width="2.21" height="2.07" fill="#fff"/>
<rect x="437.39" y="288.16" width="2.19" height="2.04" fill="#fff"/>
<rect x="440.80" y="288.16" width="2.14" height="2.04" fill="#fff"/>
<rect x="507.68" y="288.16" width="2.19" height="2.04" fill="#fff"/>
<rect x="511.08" y="288.16" width="2.14" height="2.04" fill="#fff"/>
<rect x="164.75" y="370.64" width="2.23" height="2.06" fill="#fff"/>
<rect x="168.21" y="370.64" width="2.17" height="2.06" fill="#fff"/>
<rect x="406.09" y="582.80" width="2.74" height="2.30" fill="#fff"/>
<rect x="410.31" y="582.80" width="2.67" height="2.30" fill="#fff"/>
</svg></body></html>
